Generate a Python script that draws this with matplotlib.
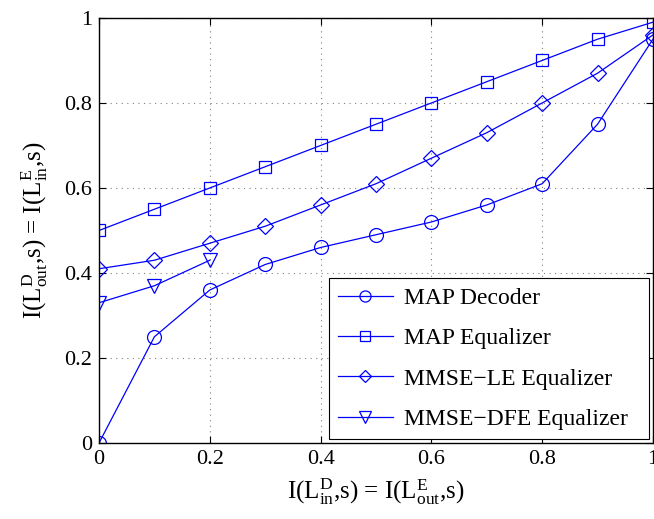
import matplotlib.pyplot as plt
import numpy as np

plt.rcParams['font.family'] = ['Liberation Serif', 'DejaVu Serif']
plt.rcParams['mathtext.fontset'] = 'custom'
plt.rcParams['mathtext.rm'] = 'Liberation Serif'
plt.rcParams['mathtext.it'] = 'Liberation Serif:italic'

x = [0, 0.1, 0.2, 0.3, 0.4, 0.5, 0.6, 0.7, 0.8, 0.9, 1.0]
map_decoder = [0.0, 0.25, 0.36, 0.42, 0.46, 0.49, 0.52, 0.56, 0.61, 0.75, 0.95]
map_equalizer = [0.50, 0.55, 0.60, 0.65, 0.70, 0.75, 0.80, 0.85, 0.90, 0.95, 0.99]
mmse_le = [0.41, 0.43, 0.47, 0.51, 0.56, 0.61, 0.67, 0.73, 0.80, 0.87, 0.96]
x_dfe = [0, 0.1, 0.2]
mmse_dfe = [0.33, 0.37, 0.43]

fig = plt.figure(figsize=(6.54, 5.19), dpi=100)
ax = fig.add_axes([0.1514, 0.1464, 0.847, 0.819])

kw = dict(color='b', lw=0.9, mfc='none', mew=0.9)
ax.plot(x, map_decoder, marker='o', ms=10, label='MAP Decoder', **kw)
ax.plot(x, map_equalizer, marker='s', ms=9, label='MAP Equalizer', **kw)
ax.plot(x, mmse_le, marker='D', ms=8, label='MMSE\u2212LE Equalizer', **kw)
ax.plot(x_dfe, mmse_dfe, marker='v', ms=10, label='MMSE\u2212DFE Equalizer', **kw)

ax.set_xlim(0, 1)
ax.set_ylim(0, 1)
ax.set_xticks(np.arange(0, 1.01, 0.2))
ax.set_yticks(np.arange(0, 1.01, 0.2))
ax.set_xticklabels(['0', '0.2', '0.4', '0.6', '0.8', '1'])
ax.set_yticklabels(['0', '0.2', '0.4', '0.6', '0.8', '1'])
ax.tick_params(direction='in', top=True, right=True, labelsize=16, length=5, pad=5)
ax.grid(True, color='gray', linestyle=(0, (1, 4)), lw=0.8)
for s in ax.spines.values():
    s.set_linewidth(1)

ax.set_xlabel(r'I(L$_{\mathrm{in}}^{\mathrm{D}}$,s) = I(L$_{\mathrm{out}}^{\mathrm{E}}$,s)', fontsize=18, labelpad=5)
ax.set_ylabel(r'I(L$_{\mathrm{out}}^{\mathrm{D}}$,s) = I(L$_{\mathrm{in}}^{\mathrm{E}}$,s)', fontsize=18, labelpad=10)

leg = ax.legend(loc='lower right', fontsize=17, fancybox=False, framealpha=1,
                edgecolor='k', borderaxespad=0.15, handlelength=2.3, labelspacing=0.8,
                markerscale=0.8, borderpad=0.4, handletextpad=0.5)
leg.get_frame().set_linewidth(0.8)
# extra padding on the right, like the reference
leg._legend_box.sep = 0
for t in leg.get_texts():
    t.set_text(t.get_text() + '  ')

fig.savefig('out.png', dpi=100)
